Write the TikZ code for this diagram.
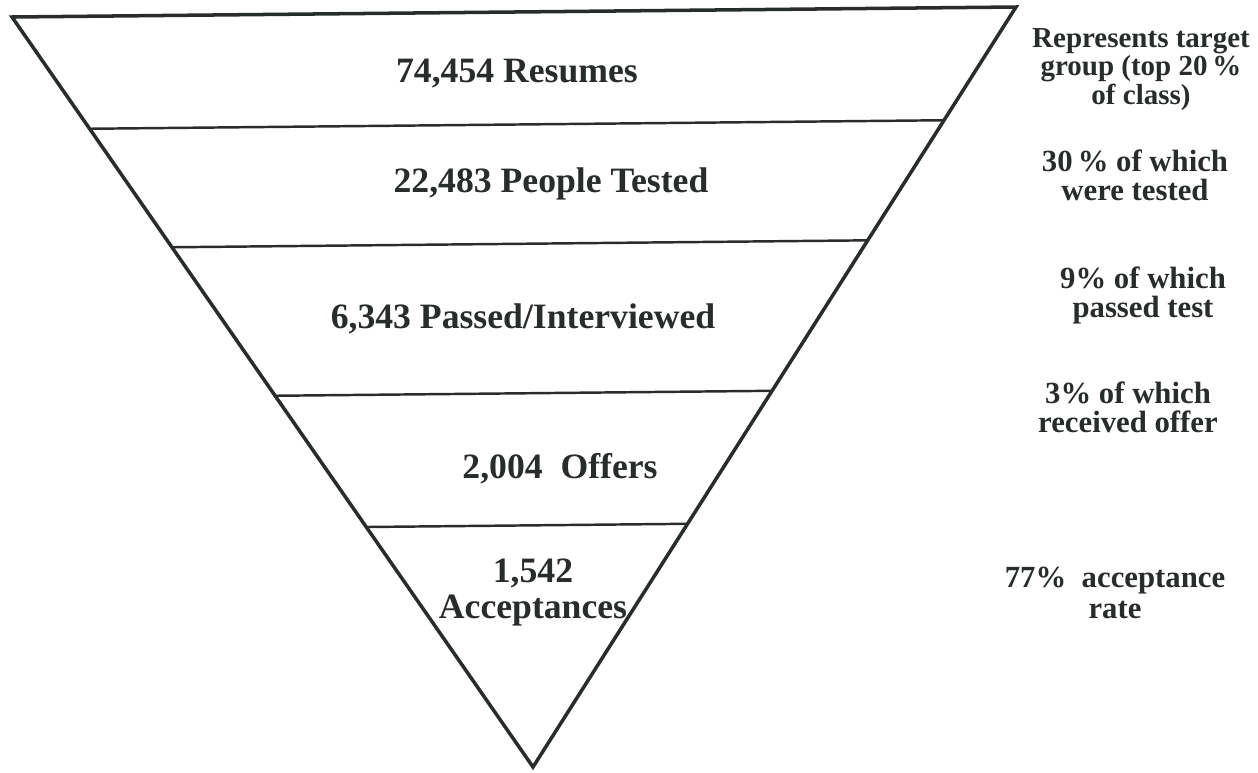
\documentclass[tikz,border=0pt]{standalone}
\usepackage{fontspec}
\setmainfont{Liberation Serif}
\usepackage{tikz}
\usetikzlibrary{calc}
\usepackage{xcolor}
\definecolor{ink}{RGB}{40,44,44}

\begin{document}
\begin{tikzpicture}[x=0.02cm,y=-0.02cm,
    stage/.style={text=ink, font=\bfseries\fontsize{20.3}{20.4}\selectfont, align=center, inner sep=0pt, anchor=base},
    note/.style={text=ink, font=\bfseries\fontsize{17.5}{16}\selectfont, align=center, inner sep=0pt, anchor=base}]
    \useasboundingbox (0,0) rectangle (1258,772);

    % Funnel outline
    \coordinate (tl) at (12,17);
    \coordinate (tr) at (1016,7);
    \coordinate (tip) at (533,767);
    \draw[ink, line width=2pt, line join=miter] (tl) -- (tr) -- (tip) -- cycle;

    % Stage dividers
    \foreach \f in {0.149,0.307,0.505,0.68}
        \draw[ink, line width=1.4pt] ($(tl)!\f!(tip)$) -- ($(tr)!\f!(tip)$);

    % Stages (base = last line)
    \node[stage] (res) at (517,82) {74,454 Resumes};
    \node[stage] (tested) at (551,192) {22,483 People Tested};
    \node[stage] (passed) at (523,328) {6,343 Passed/Interviewed};
    \node[stage] (offers) at (560,478) {2,004\ \ Offers};
    \node[stage] (accepts) at (533,618) {1,542\\Acceptances};

    % Notes on the right
    \node[note, font=\bfseries\fontsize{16.5}{14.6}\selectfont] (ntarget) at (1141,104) {Represents target\\group (top 20\,\%\\of class)};
    \node[note] (ntested) at (1135,200) {30\,\% of which\\were tested};
    \node[note] (npassed) at (1143,317) {9\% of which\\passed test};
    \node[note] (noffer) at (1128,432) {3\% of which\\received offer};
    \node[note, font=\bfseries\fontsize{17.5}{17.5}\selectfont] (naccept) at (1115,618) {77\%\ \ acceptance\\rate};
\end{tikzpicture}
\end{document}
